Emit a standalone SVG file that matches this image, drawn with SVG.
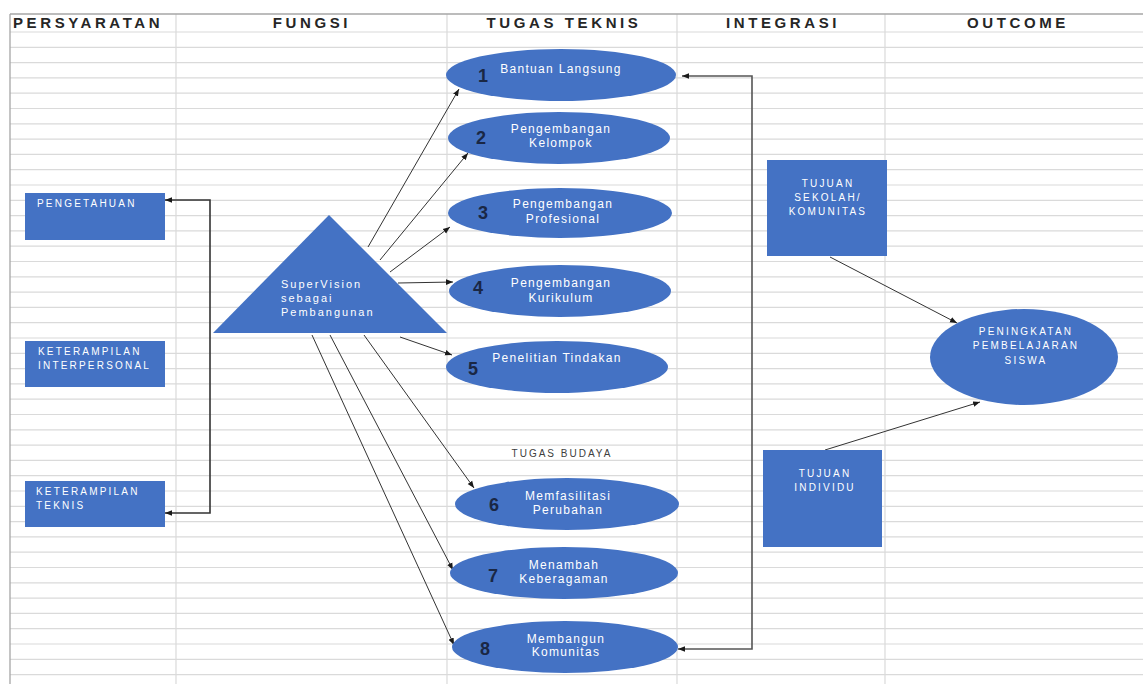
<svg xmlns="http://www.w3.org/2000/svg" width="1143" height="684" viewBox="0 0 1143 684">
<style>
.grid{stroke:#dadada;stroke-width:1.2;fill:none}
.border{stroke:#a6a6a6;stroke-width:1.3;fill:none}
.hdr{font-family:"Liberation Sans",Arial,sans-serif;font-weight:bold;font-size:15px;letter-spacing:3.6px;fill:#262626}
.shape{fill:#4472C4}
.t{font-family:"Liberation Sans",Arial,sans-serif;fill:#ffffff}
.box{font-size:10px;letter-spacing:2.2px}
.el{font-size:12px;letter-spacing:1.3px;text-anchor:middle}
.tri{font-size:11px;letter-spacing:2px}
.num{font-family:"Liberation Sans",Arial,sans-serif;font-weight:bold;font-size:18px;fill:#1a2744;text-anchor:middle}
.lbl{font-family:"Liberation Sans",Arial,sans-serif;font-size:10px;letter-spacing:2px;fill:#404040;text-anchor:middle}
.c{stroke:#333333;stroke-width:1;fill:none;marker-end:url(#ah)}
.br{stroke:#333333;stroke-width:1.6;fill:none;marker-end:url(#ah);marker-start:url(#ahs)}
</style>
<defs>
<marker id="ah" viewBox="0 0 10 10" refX="10" refY="5" markerWidth="7" markerHeight="7" markerUnits="userSpaceOnUse" orient="auto"><path d="M0,1 L10,5 L0,9 z" fill="#1a1a1a"/></marker>
<marker id="ahs" viewBox="0 0 10 10" refX="10" refY="5" markerWidth="7" markerHeight="7" markerUnits="userSpaceOnUse" orient="auto-start-reverse"><path d="M0,1 L10,5 L0,9 z" fill="#1a1a1a"/></marker>
</defs>
<rect width="1143" height="684" fill="#ffffff"/>
<g id="grid">
<path class="grid" d="M10,32H1143 M10,47.3H1143 M10,62.6H1143 M10,77.9H1143 M10,93.2H1143 M10,108.5H1143 M10,123.8H1143 M10,139.1H1143 M10,154.4H1143 M10,169.7H1143 M10,185H1143 M10,200.3H1143 M10,215.6H1143 M10,230.9H1143 M10,246.2H1143 M10,261.5H1143 M10,276.8H1143 M10,292.1H1143 M10,307.4H1143 M10,322.7H1143 M10,338H1143 M10,353.3H1143 M10,368.6H1143 M10,383.9H1143 M10,399.2H1143 M10,414.5H1143 M10,429.8H1143 M10,445.1H1143 M10,460.4H1143 M10,475.7H1143 M10,491H1143 M10,506.3H1143 M10,521.6H1143 M10,536.9H1143 M10,552.2H1143 M10,567.5H1143 M10,582.8H1143 M10,598.1H1143 M10,613.4H1143 M10,628.7H1143 M10,644H1143 M10,659.3H1143 M10,674.6H1143 M176,14V684 M447,14V684 M677,14V684 M885,14V684"/>
<path class="border" d="M10,14H1143 M10,14V684"/>
</g>
<g id="headers">
<text class="hdr" x="13" y="28">PERSYARATAN</text>
<text class="hdr" x="312" y="28" text-anchor="middle">FUNGSI</text>
<text class="hdr" x="564" y="28" text-anchor="middle">TUGAS TEKNIS</text>
<text class="hdr" x="783" y="28" text-anchor="middle">INTEGRASI</text>
<text class="hdr" x="1018" y="28" text-anchor="middle">OUTCOME</text>
</g>
<g id="connectors">
<path class="c" d="M368,247 L459,89"/>
<path class="c" d="M380,260 L468,153"/>
<path class="c" d="M390,272 L450,227"/>
<path class="c" d="M398,283 L453,282"/>
<path class="c" d="M400,337 L452,355"/>
<path class="c" d="M364,335 L474,488"/>
<path class="c" d="M330,335 L453,570"/>
<path class="c" d="M312,335 L454,645"/>
<path class="br" d="M165,200 L210,200 L210,513 L165,513"/>
<path class="br" d="M682,76 L752,76 L752,649 L678,649" style="stroke:#555555"/>
<path class="c" d="M830,257 L957,323"/>
<path class="c" d="M825,450 L980,402"/>
</g>
<g id="pengetahuan">
<rect class="shape" x="25" y="193" width="140" height="47"/>
<text class="t box" x="37" y="207">PENGETAHUAN</text>
</g>
<g id="interpersonal">
<rect class="shape" x="25" y="341" width="140" height="46"/>
<text class="t box" x="38" y="355">KETERAMPILAN</text>
<text class="t box" x="38" y="369">INTERPERSONAL</text>
</g>
<g id="teknis">
<rect class="shape" x="25" y="481" width="140" height="46"/>
<text class="t box" x="36" y="495">KETERAMPILAN</text>
<text class="t box" x="36" y="509">TEKNIS</text>
</g>
<g id="supervision">
<polygon class="shape" points="329,215 447,333 213,333"/>
<text class="t tri" x="281" y="288">SuperVision</text>
<text class="t tri" x="281" y="302">sebagai</text>
<text class="t tri" x="281" y="316">Pembangunan</text>
</g>
<g id="task1">
<ellipse class="shape" cx="561" cy="75" rx="115" ry="26"/>
<text class="num" x="483" y="82">1</text>
<text class="t el" x="561" y="73">Bantuan Langsung</text>
</g>
<g id="task2">
<ellipse class="shape" cx="559" cy="138" rx="111" ry="26"/>
<text class="num" x="481" y="144">2</text>
<text class="t el" x="561" y="133">Pengembangan</text>
<text class="t el" x="561" y="147">Kelompok</text>
</g>
<g id="task3">
<ellipse class="shape" cx="560" cy="213" rx="112" ry="25"/>
<text class="num" x="483" y="219">3</text>
<text class="t el" x="563" y="208">Pengembangan</text>
<text class="t el" x="563" y="223">Profesional</text>
</g>
<g id="task4">
<ellipse class="shape" cx="560" cy="291" rx="111" ry="26"/>
<text class="num" x="478" y="294">4</text>
<text class="t el" x="561" y="287">Pengembangan</text>
<text class="t el" x="561" y="302">Kurikulum</text>
</g>
<g id="task5">
<ellipse class="shape" cx="557" cy="367" rx="111" ry="26"/>
<text class="num" x="473" y="375">5</text>
<text class="t el" x="557" y="362">Penelitian Tindakan</text>
</g>
<text class="lbl" x="562" y="457">TUGAS BUDAYA</text>
<g id="task6">
<ellipse class="shape" cx="567" cy="504" rx="112" ry="26"/>
<text class="num" x="494" y="511">6</text>
<text class="t el" x="568" y="500">Memfasilitasi</text>
<text class="t el" x="568" y="514">Perubahan</text>
</g>
<g id="task7">
<ellipse class="shape" cx="564" cy="573" rx="114" ry="26"/>
<text class="num" x="493" y="582">7</text>
<text class="t el" x="564" y="569">Menambah</text>
<text class="t el" x="564" y="583">Keberagaman</text>
</g>
<g id="task8">
<ellipse class="shape" cx="565" cy="647" rx="113" ry="26"/>
<text class="num" x="485" y="655">8</text>
<text class="t el" x="566" y="643">Membangun</text>
<text class="t el" x="566" y="656">Komunitas</text>
</g>
<g id="tujuan-sekolah">
<rect class="shape" x="767" y="160" width="120" height="96"/>
<text class="t box" x="828" y="187" text-anchor="middle">TUJUAN</text>
<text class="t box" x="828" y="201" text-anchor="middle">SEKOLAH/</text>
<text class="t box" x="828" y="215" text-anchor="middle">KOMUNITAS</text>
</g>
<g id="tujuan-individu">
<rect class="shape" x="763" y="450" width="119" height="97"/>
<text class="t box" x="825" y="477" text-anchor="middle">TUJUAN</text>
<text class="t box" x="825" y="491" text-anchor="middle">INDIVIDU</text>
</g>
<g id="outcome">
<ellipse class="shape" cx="1024" cy="357" rx="94" ry="48"/>
<text class="t box" x="1026" y="335" text-anchor="middle">PENINGKATAN</text>
<text class="t box" x="1026" y="349" text-anchor="middle">PEMBELAJARAN</text>
<text class="t box" x="1026" y="364" text-anchor="middle">SISWA</text>
</g>
</svg>
